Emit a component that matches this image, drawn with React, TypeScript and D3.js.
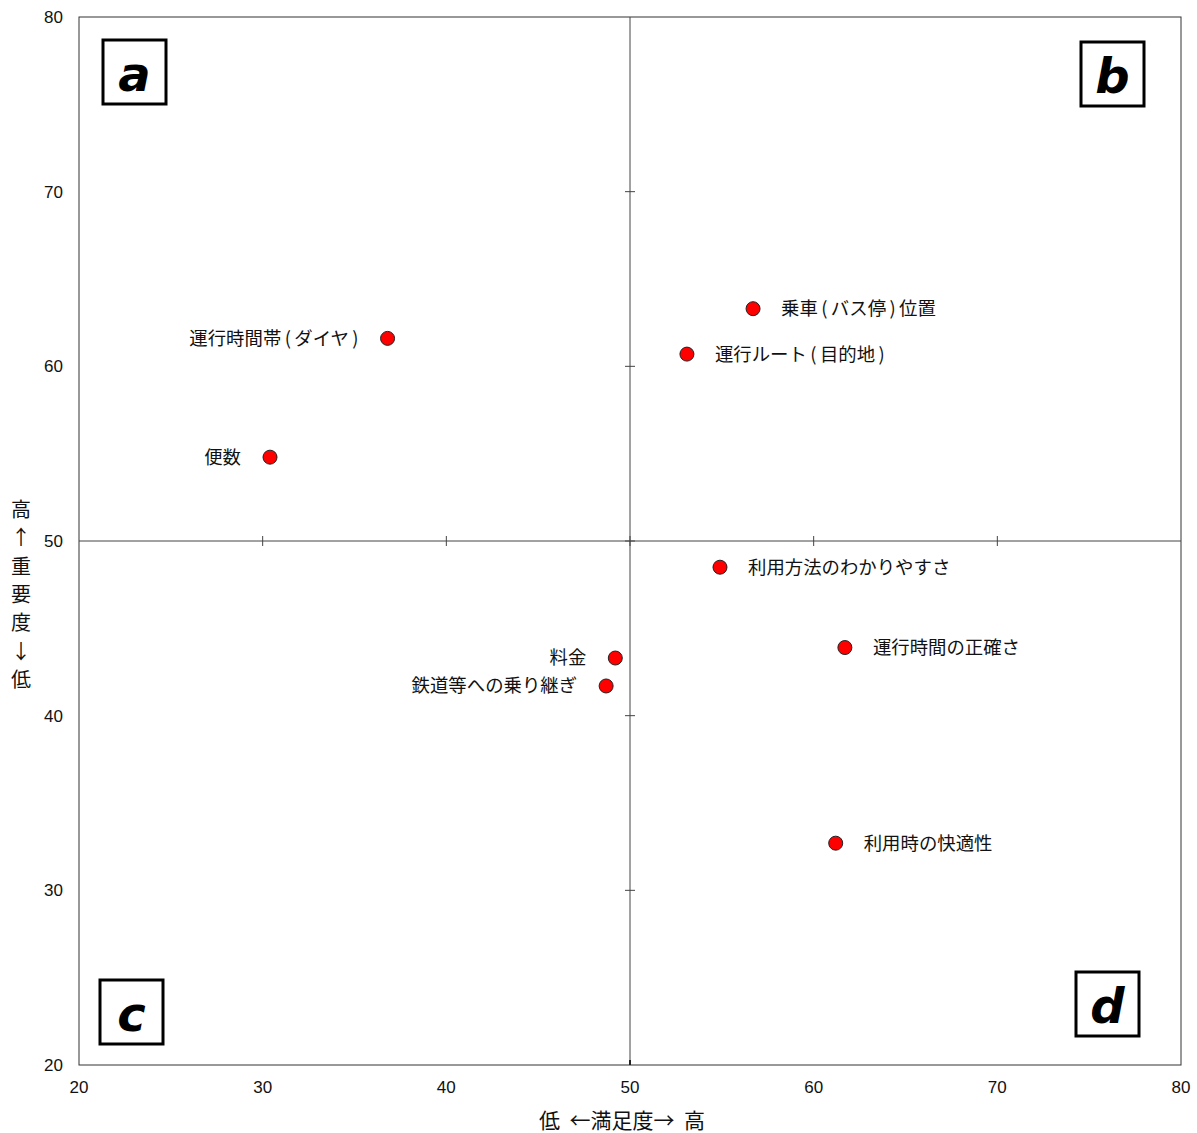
import React from "react";
import * as d3 from "d3";

const labels = ["運行時間帯(ダイヤ)", "便数", "乗車(バス停)位置", "運行ルート(目的地)", "利用方法のわかりやすさ", "運行時間の正確さ", "料金", "鉄道等への乗り継ぎ", "利用時の快適性"];
const satisfaction = [36.8, 30.4, 56.7, 53.1, 54.9, 61.7, 49.2, 48.7, 61.2];
const importance = [61.6, 54.8, 63.3, 60.7, 48.5, 43.9, 43.3, 41.7, 32.7];
const labelSide = ["left", "left", "right", "right", "right", "right", "left", "left", "right"];
const ticks = [20, 30, 40, 50, 60, 70, 80];
const quadrants = ["a", "b", "c", "d"];
const quadrantPos = [[103, 40], [1081, 42], [100, 980], [1076, 972]];
const yTitle = ["高", "↑", "重", "要", "度", "↓", "低"];

function renderLabel(l: string) {
  const parts = l.split(/([()])/).filter(p => p !== "");
  let pad = 0;
  return parts.map((p, i) => {
    if (p === "(" || p === ")") {
      const dx = 3.4 + pad;
      pad = 3.4;
      return <tspan key={i} dx={dx}>{p}</tspan>;
    }
    const dx = pad;
    pad = 0;
    return <tspan key={i} dx={dx}>{p}</tspan>;
  });
}

export default function App() {
  const W = 1197, H = 1133;
  const x = d3.scaleLinear().domain([20, 80]).range([79, 1181]);
  const y = d3.scaleLinear().domain([20, 80]).range([1065, 17]);
  const font = "'Noto Sans CJK JP', sans-serif";
  const lineCol = "#444";
  return (
    <svg width={W} height={H} style={{ position: "absolute", left: 0, top: 0 }} fontFamily={font}>
      <rect x={x(20)} y={y(80)} width={x(80) - x(20)} height={y(20) - y(80)} fill="white" stroke="#333" strokeWidth={1} />
      <line x1={x(50)} x2={x(50)} y1={y(80)} y2={y(20)} stroke={lineCol} strokeWidth={1} />
      <line x1={x(20)} x2={x(80)} y1={y(50)} y2={y(50)} stroke={lineCol} strokeWidth={1} />
      {ticks.filter(t => t > 20 && t < 80).map(t => (
        <g key={"t" + t}>
          <line x1={x(50) - 5} x2={x(50) + 5} y1={y(t)} y2={y(t)} stroke={lineCol} />
          <line x1={x(t)} x2={x(t)} y1={y(50) - 5} y2={y(50) + 5} stroke={lineCol} />
        </g>
      ))}
      <line x1={x(50)} x2={x(50)} y1={y(20) - 5} y2={y(20)} stroke="#222" strokeWidth={2} />
      {ticks.map(t => (
        <text key={"yl" + t} x={63} y={y(t)} dy="0.35em" textAnchor="end" fontSize={17} fontFamily="'Liberation Sans', Arial, sans-serif" fill="#111">{t}</text>
      ))}
      {ticks.map(t => (
        <text key={"xl" + t} x={x(t)} y={1087} dy="0.35em" textAnchor="middle" fontSize={17} fontFamily="'Liberation Sans', Arial, sans-serif" fill="#111">{t}</text>
      ))}
      {yTitle.map((c, i) => (
        <text key={"yt" + i} x={21} y={510 + i * 28.3} dy="0.35em" textAnchor="middle" fontSize={20} fill="#111">{c}</text>
      ))}
      <text x={622} y={1121} dy="0.35em" textAnchor="middle" fontSize={21} fill="#111" style={{ whiteSpace: "pre" }}>低  ←満足度→  高</text>
      {quadrants.map((q, i) => (
        <g key={q}>
          <rect x={quadrantPos[i][0]} y={quadrantPos[i][1]} width={63} height={64} fill="white" stroke="#000" strokeWidth={3} />
          <text x={quadrantPos[i][0] + 31.5} y={quadrantPos[i][1] + 34} dy="0.35em" textAnchor="middle" fontSize={48} fontWeight="bold" fontStyle="italic" fontFamily="'DejaVu Sans', sans-serif">{q}</text>
        </g>
      ))}
      {labels.map((l, i) => (
        <g key={l}>
          <circle cx={x(satisfaction[i])} cy={y(importance[i])} r={7} fill="#ff0000" stroke="#222" strokeWidth={1} />
          <text x={x(satisfaction[i]) + (labelSide[i] === "right" ? 28 : -29)} y={y(importance[i])} dy="0.35em" textAnchor={labelSide[i] === "right" ? "start" : "end"} fontSize={18.4} fill="#111">{renderLabel(l)}</text>
        </g>
      ))}
    </svg>
  );
}
